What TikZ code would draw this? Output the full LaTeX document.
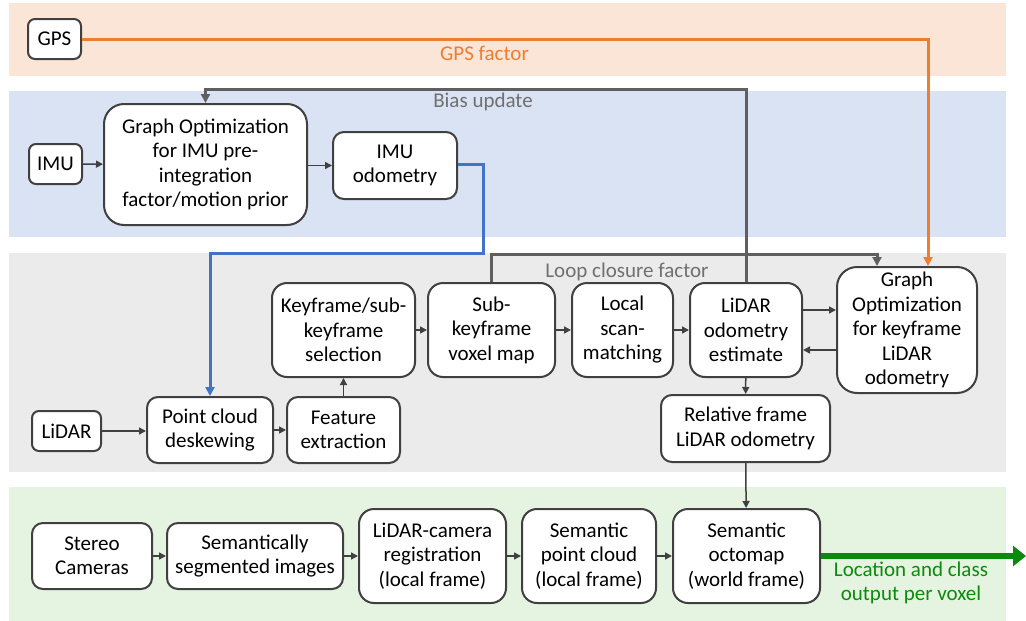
\documentclass[tikz,border=0pt]{standalone}
\usepackage{fontspec}
\setmainfont{Carlito}
\usetikzlibrary{arrows.meta,calc}
\definecolor{bandorange}{HTML}{FBE5D6}
\definecolor{bandblue}{HTML}{DAE3F3}
\definecolor{bandgray}{HTML}{EBEBEB}
\definecolor{bandgreen}{HTML}{E5F4E1}
\definecolor{edge}{HTML}{404040}
\definecolor{thickline}{HTML}{5F5F5F}
\definecolor{gpsline}{HTML}{ED7D31}
\definecolor{imuline}{HTML}{4472C4}
\definecolor{outgreen}{HTML}{0B8A0B}
\definecolor{labelgray}{HTML}{707070}
\tikzset{
  box/.style={draw=edge, line width=2pt, fill=white, align=center, inner sep=2pt,
    text=black, font=\fontsize{21}{24.5}\selectfont},
  arr/.style={draw=edge, line width=1.5pt, -{Triangle[length=7pt,width=7pt]}},
  heavy/.style={draw=thickline, line width=3pt, -{Triangle[length=9pt,width=9pt]}},
  lbl/.style={font=\fontsize{21}{24.5}\selectfont, inner sep=0pt, align=center},
}
\begin{document}
\begin{tikzpicture}[x=1pt,y=-1pt]
\useasboundingbox (0,0) rectangle (1026,621);
% background bands
\fill[bandorange] (9,3) rectangle (1006,76);
\fill[bandblue] (9,91) rectangle (1006,237);
\fill[bandgray] (9,253) rectangle (1006,472);
\fill[bandgreen] (9,487) rectangle (1006,621);

% sensors and processing blocks
\node[box, rounded corners=7pt, minimum width=53pt, minimum height=40pt] (gps) at (54.5,39) {GPS};
\node[box, rounded corners=7pt, minimum width=53pt, minimum height=40pt] (imu) at (55.5,164) {IMU};
\node[box, rounded corners=20pt, minimum width=203pt, minimum height=121pt] (gimu) at (205.5,164.5)
  {Graph Optimization\\for IMU pre-\\integration\\factor/motion prior};
\node[box, rounded corners=11pt, minimum width=124pt, minimum height=67pt] (imuodo) at (395,165.5) {IMU\\odometry};
\node[box, rounded corners=7pt, minimum width=69pt, minimum height=40pt] (lidar) at (66.5,431) {LiDAR};
\node[box, rounded corners=11pt, minimum width=126pt, minimum height=66pt] (deskew) at (210,430) {Point cloud\\deskewing};
\node[box, rounded corners=11pt, minimum width=113pt, minimum height=66pt] (feat) at (343.5,430) {Feature\\extraction};
\node[box, rounded corners=15pt, minimum width=143pt, minimum height=94pt] (kfsel) at (343.5,330) {Keyframe/sub-\\keyframe\\selection};
\node[box, rounded corners=15pt, minimum width=127pt, minimum height=94pt] (subkf) at (491.5,330) {Sub-\\keyframe\\voxel map};
\node[box, rounded corners=15pt, minimum width=101pt, minimum height=94pt] (scan) at (622.5,330) {Local\\scan-\\matching};
\node[box, rounded corners=15pt, minimum width=112pt, minimum height=94pt] (lodo) at (746,330) {LiDAR\\odometry\\estimate};
\node[box, rounded corners=20pt, minimum width=140pt, minimum height=126pt] (gopt) at (907,330)
  {Graph\\Optimization\\for keyframe\\LiDAR\\odometry};
\node[box, rounded corners=11pt, minimum width=169pt, minimum height=67pt] (rel) at (745.5,428.5) {Relative frame\\LiDAR odometry};
\node[box, rounded corners=11pt, minimum width=120pt, minimum height=66pt] (stereo) at (92,556) {Stereo\\Cameras};
\node[box, rounded corners=11pt, minimum width=176pt, minimum height=66pt] (seg) at (255,556) {Semantically\\segmented images};
\node[box, rounded corners=15pt, minimum width=147pt, minimum height=94pt] (reg) at (432.5,556) {LiDAR-camera\\registration\\(local frame)};
\node[box, rounded corners=15pt, minimum width=134pt, minimum height=94pt] (spc) at (589,556) {Semantic\\point cloud\\(local frame)};
\node[box, rounded corners=15pt, minimum width=147pt, minimum height=94pt] (octo) at (746.5,556) {Semantic\\octomap\\(world frame)};

% feedback and factor connectors
\draw[draw=gpsline, line width=3pt, -{Triangle[length=9pt,width=9pt]}]
  (gps.east) -| ([xshift=21pt]gopt.north);
\node[lbl, text=gpsline] (gpslbl) at (484.5,53) {GPS factor};

\draw[heavy] (lodo.north) |- ([yshift=14pt]gimu.north) -- (gimu.north);
\node[lbl, text=labelgray] (biaslbl) at (483,102) {Bias update};

\draw[heavy] (subkf.north) |- ([xshift=-30pt,yshift=12pt]gopt.north) -- ([xshift=-30pt]gopt.north);
\node[lbl, text=labelgray] (looplbl) at (627,272) {Loop closure factor};

\coordinate (bturn) at (483,253);
\draw[draw=imuline, line width=3pt, -{Triangle[length=9pt,width=9pt]}]
  ([yshift=1pt]imuodo.east) -| (bturn) -| (deskew.north);

% data flow
\draw[arr] (imu) -- (gimu);
\draw[arr] (gimu.east |- imuodo.west) -- (imuodo.west);
\draw[arr] (lidar) -- (lidar -| deskew.west);
\draw[arr] (deskew) -- (feat);
\draw[arr] (feat) -- (kfsel);
\draw[arr] (kfsel) -- (subkf);
\draw[arr] (subkf) -- (scan);
\draw[arr] (scan) -- (lodo);
\draw[arr] ([yshift=20pt]lodo.east) -- ([yshift=20pt]lodo.east -| gopt.west);
\draw[arr] ([yshift=-20pt]gopt.west) -- ([yshift=-20pt]gopt.west -| lodo.east);
\draw[arr] (lodo) -- (rel);
\draw[arr] (rel) -- (octo);
\draw[arr] (stereo) -- (seg);
\draw[arr] (seg) -- (reg);
\draw[arr] (reg) -- (spc);
\draw[arr] (spc) -- (octo);

% voxel output
\coordinate (out) at (1026,556);
\draw[draw=outgreen, line width=6pt, -{Triangle[length=13pt,width=20pt]}] (octo.east) -- (out);
\node[lbl, text=outgreen] (outlbl) at (911,583) {Location and class\\output per voxel};
\end{tikzpicture}
\end{document}
